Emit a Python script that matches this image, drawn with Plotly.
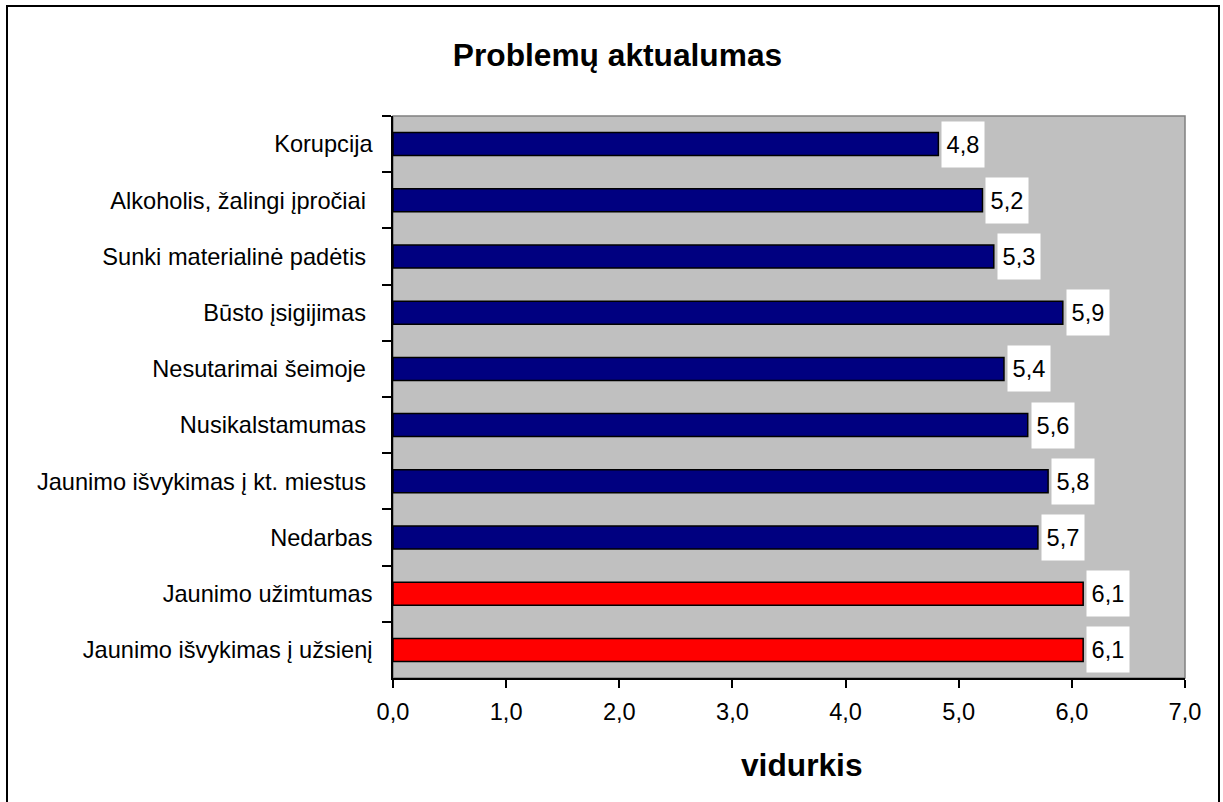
import plotly.graph_objects as go

categories = [
    "Korupcija",
    "Alkoholis, žalingi įpročiai\u00a0",
    "Sunki materialinė padėtis\u00a0",
    "Būsto įsigijimas\u00a0",
    "Nesutarimai šeimoje\u00a0",
    "Nusikalstamumas\u00a0",
    "Jaunimo išvykimas į kt. miestus\u00a0",
    "Nedarbas",
    "Jaunimo užimtumas",
    "Jaunimo išvykimas į užsienį",
]
values = [4.82, 5.21, 5.31, 5.92, 5.40, 5.61, 5.79, 5.70, 6.10, 6.10]
highlight = [False, False, False, False, False, False, False, False, True, True]
x_ticks = [0, 1, 2, 3, 4, 5, 6, 7]

NAVY = "#000080"
RED = "#FF0000"
FONT = "Liberation Sans, Arial, sans-serif"

colors = [RED if h else NAVY for h in highlight]

fig = go.Figure()
fig.add_trace(go.Bar(
    x=values, y=categories, orientation="h",
    marker=dict(color=colors, line=dict(color="#000000", width=1.5)),
    hoverinfo="x+y",
))

for c, v in zip(categories, values):
    fig.add_annotation(
        x=v, y=c, xref="x", yref="y",
        text=f"{v:.1f}".replace(".", ","),
        showarrow=False, xanchor="left", yanchor="middle", xshift=3,
        bgcolor="#FFFFFF", width=42, height=45, borderpad=0, align="center",
        font=dict(family=FONT, size=23.6, color="#000000"),
    )

L, R, T, B = 393, 1185, 116, 678
W, H = 1223, 802
pw, ph = R - L, B - T
def px_x(p):
    return (p - L) / pw
def px_y(p):
    return (B - p) / ph

# axis title placed as annotation (centred slightly right of plot centre as in reference)
fig.add_annotation(
    x=px_x(802), y=px_y(765), xref="paper", yref="paper",
    text="<b>vidurkis</b>", showarrow=False, xanchor="center", yanchor="middle",
    font=dict(family=FONT, size=31.7, color="#000000"),
)

# outer chart border
fig.add_shape(type="rect", xref="paper", yref="paper",
              x0=px_x(7), x1=px_x(1219), y0=px_y(812), y1=px_y(6),
              line=dict(color="#000000", width=2), layer="below")
# plot area frame (grey)
fig.add_shape(type="rect", xref="paper", yref="paper",
              x0=0, x1=1, y0=0, y1=1,
              line=dict(color="#808080", width=1.5), layer="below")

fig.update_layout(
    width=W, height=H,
    margin=dict(l=L, r=W - R, t=T, b=H - B, pad=0),
    paper_bgcolor="#FFFFFF", plot_bgcolor="#C0C0C0",
    separators=", ",
    bargap=0.59,
    showlegend=False,
    font=dict(family=FONT, size=23.6, color="#000000"),
    title=dict(text="<b>Problemų aktualumas</b>", x=617.5 / W, xanchor="center",
               xref="container", y=1 - 55 / H, yref="container", yanchor="middle",
               font=dict(family=FONT, size=31.7, color="#000000")),
    xaxis=dict(
        range=[0, 7], tickvals=x_ticks, tickformat=".1f",
        ticks="outside", ticklen=8, tickwidth=1.5, tickcolor="#000000",
        showline=True, linecolor="#000000", linewidth=1.5,
        showgrid=False, zeroline=False,
        tickfont=dict(family=FONT, size=23.6),
        ticklabelstandoff=4,
    ),
    yaxis=dict(
        autorange="reversed", tickson="boundaries",
        ticks="outside", ticklen=9, tickwidth=1.5, tickcolor="#000000",
        showline=True, linecolor="#000000", linewidth=1.5,
        showgrid=False, zeroline=False,
        tickfont=dict(family=FONT, size=23.6),
        ticklabelstandoff=14,
    ),
)

fig.write_html("out.html", config={"displayModeBar": False},
               post_script="document.body.style.margin='0';")
